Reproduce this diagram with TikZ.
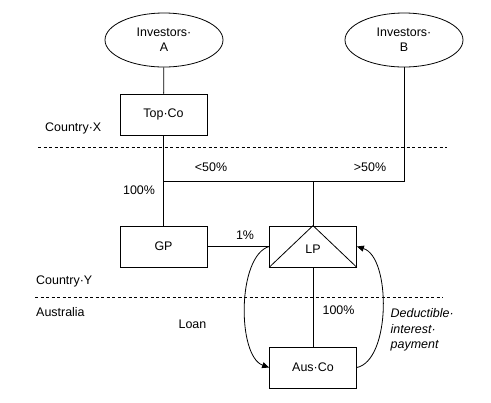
\documentclass[tikz,border=0pt]{standalone}
\usepackage{fontspec}
\setmainfont{Liberation Sans}
\usetikzlibrary{shapes.geometric,arrows.meta}
\begin{document}
\begin{tikzpicture}[x=1bp,y=-1bp,
  every node/.style={font=\fontsize{12.5}{15}\selectfont, inner sep=0pt},
  ln/.style={line width=0.8bp, black},
  ell/.style={draw, ellipse, line width=0.8bp, minimum width=118bp, minimum height=54bp, align=center},
  box/.style={draw, rectangle, line width=0.8bp, minimum width=87bp, minimum height=41bp},
  border/.style={line width=0.8bp, dash pattern=on 3bp off 2.5bp},
  arr/.style={line width=0.8bp, -{Triangle[length=7bp,width=6bp]}},
  lbl/.style={anchor=center},
  lt/.style={anchor=west}]
\useasboundingbox (0,0) rectangle (491,402);
% nodes
\node[ell] (IA) at (164,40) {Investors·\\A};
\node[ell] (IB) at (404,40) {Investors·\\B};
\node[box] (Top) at (163.5,114.5) {Top·Co};
\node[box] (GP) at (163.5,246.5) {GP};
\node[box] (LP) at (313,246.5) {};
\node[box] (Aus) at (313,367.5) {Aus·Co};
\node at (313,249) {LP};
% triangle inside LP
\draw[ln] (LP.south west) -- (LP.north) -- (LP.south east);
% coordinates
\coordinate (jA) at (164,181);
\coordinate (jM) at (313,181);
% connectors
\draw[ln] (IA) -- (Top);
\draw[ln] (Top) -- (GP);
\draw[ln] (IB.south) |- (jA);
\draw[ln] (jM) -- (LP.north);
\draw[ln] (GP.east) -- (LP.west);
\draw[ln] (LP.south) -- (Aus.north);
\draw[arr] (LP.west) .. controls (237,256) and (237,356) .. (Aus.west);
\draw[arr] (Aus.east) .. controls (391,360) and (391,257) .. (LP.east);
% borders
\coordinate (bx1) at (38,147);
\coordinate (bx2) at (447,147);
\coordinate (by1) at (35,297.5);
\coordinate (by2) at (443,297.5);
\draw[border] (bx1) -- (bx2);
\draw[border] (by1) -- (by2);
% labels
\node[lt] (cx) at (45,128) {Country·X};
\node[lbl] (l1) at (211,167) {<50\%};
\node[lbl] (l2) at (370,167) {>50\%};
\node[lbl] (l3) at (139,190.5) {100\%};
\node[lbl] (l4) at (245,235.5) {1\%};
\node[lt] (cy) at (36,281.5) {Country·Y};
\node[lt] (au) at (36,312.5) {Australia};
\node[lbl] (lo) at (192.5,324.5) {Loan};
\node[lbl] (l5) at (338.5,310.5) {100\%};
\node[lt, align=left, font=\fontsize{12.5}{15.5}\selectfont\itshape] (ded) at (390.5,330) {Deductible·\\interest·\\payment};
\end{tikzpicture}
\end{document}
